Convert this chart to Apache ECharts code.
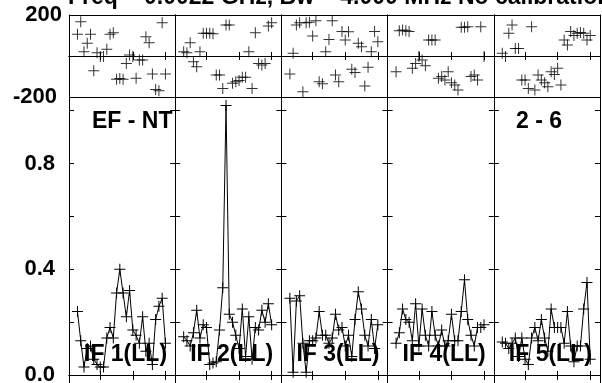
<!DOCTYPE html>
<html><head><meta charset="utf-8">
<script src="https://cdn.jsdelivr.net/npm/echarts@6/dist/echarts.min.js"></script>
<style>html,body{margin:0;padding:0;background:#fff}#c{width:602px;height:383px}</style>
</head><body><div id="c"></div>
<script>
// ---- data ----
const channels = [3,4,5,6,7,8,9,10,11,12,13,14,15,16,17,18,19,20,21,22,23,24,25,26,27,28,29,30];
const ifLabels = ['IF 1(LL)','IF 2(LL)','IF 3(LL)','IF 4(LL)','IF 5(LL)'];
const titleText = 'Freq = 0.0022 GHz, Bw = 4.000 MHz No calibration applied';
const baselineText = 'EF - NT';
const pageText = '2 - 6';
const phaseTickLabels = ['200','-200'];
const ampTickLabels = ['0.0','0.4','0.8'];

const phase1 = [106,167,21,62,106,-72,16,-3,-3,33,106,114,-114,-110,-114,-36,5,-3,-109,-20,-20,94,65,-88,-163,-170,162,-88];
const phase2 = [21,16,65,-28,-52,21,111,111,111,108,-93,-93,-158,151,151,-133,-125,-120,-104,-104,21,-158,114,-36,-44,-36,146,162];
const phase3 = [-88,13,151,162,-174,162,165,98,172,-125,-135,21,81,172,-93,-125,119,78,118,-65,-81,62,45,-146,-55,21,119,70];
const phase4 = [-77,123,127,123,120,-60,-36,-3,-20,-48,78,78,78,-109,-100,-117,-77,-130,-141,-166,140,140,143,-100,-93,-117,143,-3];
const phase5 = [13,-3,111,151,37,37,-117,-117,-158,143,-166,-93,-117,-130,-150,-77,-90,-60,-141,78,54,119,100,111,115,111,78,100];

const amp1 = [0.24,0.13,0.03,0.10,0.11,0.06,0.04,0.03,0.03,0.14,0.18,0.14,0.31,0.40,0.31,0.22,0.32,0.17,0.15,0.12,0.22,0.09,0.12,0.04,0.21,0.26,0.29,0.12];
const amp2 = [0.145,0.13,0.11,0.16,0.245,0.14,0.19,0.18,0.04,0.045,0.05,0.17,0.33,1.02,0.23,0.20,0.15,0.10,0.25,0.07,0.22,0.06,0.18,0.17,0.245,0.20,0.27,0.19];
const amp3 = [0.29,0.01,0.28,0.30,0.12,0.01,0.13,0.13,0.14,0.24,0.15,0.15,0.12,0.14,0.23,0.17,0.18,0.11,0.15,0.07,0.21,0.315,0.25,0.15,0.11,0.21,0.10,0.19];
const amp4 = [0.12,0.16,0.25,0.21,0.20,0.13,0.27,0.11,0.25,0.15,0.11,0.24,0.15,0.11,0.17,0.11,0.13,0.23,0.13,0.13,0.24,0.36,0.21,0.15,0.11,0.18,0.18,0.19];
const amp5 = [0.125,0.12,0.10,0.12,0.14,0.07,0.14,0.06,0.04,0.14,0.18,0.13,0.21,0.14,0.09,0.25,0.18,0.18,0.18,0.12,0.24,0.11,0.05,0.11,0.11,0.25,0.35,0.06];

const phases = [phase1, phase2, phase3, phase4, phase5];
const amps = [amp1, amp2, amp3, amp4, amp5];

// ---- layout ----
const FONT = 'Liberation Sans, Arial, Helvetica, sans-serif';
const PL = 69, PW = 106.2;
const PH_TOP = 15, PH_H = 82;
const AMP_TOP = 97, AMP_MIN = -0.2, AMP_MAX = 1.0518, PX_PER = 264.3;
const AMP_H = (AMP_MAX - AMP_MIN) * PX_PER;
const AMP_BOTTOM_OFFSET = -(AMP_TOP + AMP_H - 384);
const XMIN = 0.4, XMAX = 33;
const PLUS = 'path://M5,0H6V5H11V6H6V11H5V6H0V5H5Z';

const grids = [], xAxes = [], yAxes = [], series = [], titles = [];
titles.push({text: titleText, left: 68, top: -13.5, padding: 0,
  textStyle: {fontFamily: FONT, fontWeight: 'bold', fontSize: 23, lineHeight: 23, color: '#000'}});
const annStyle = {fontFamily: FONT, fontWeight: 'bold', fontSize: 23, lineHeight: 23, color: '#000'};
titles.push({text: baselineText, left: 92, top: 110.5, padding: 0, textStyle: annStyle});
titles.push({text: pageText, left: 516, top: 110.5, padding: 0, textStyle: annStyle});

const line = {show: true, lineStyle: {color: '#000', width: 1}};
function xAx(g, pos, tickLen, offset) {
  return {type: 'value', gridIndex: g, position: pos, min: XMIN, max: XMAX, splitNumber: 3,
    minInterval: 10, maxInterval: 10, offset: offset || 0,
    axisLine: line, axisTick: {show: true, inside: true, length: tickLen, lineStyle: {color: '#000'}},
    axisLabel: {show: false}, splitLine: {show: false}};
}

for (let p = 0; p < 5; p++) {
  const left = PL + p * PW;
  const gPh = 2 * p, gAmp = 2 * p + 1;
  grids.push({left: left, top: PH_TOP, width: PW, height: PH_H, containLabel: false, outerBoundsMode: 'none'});
  grids.push({left: left, top: AMP_TOP, width: PW, height: AMP_H, containLabel: false, outerBoundsMode: 'none'});

  // phase axes
  const xPh = xAxes.length;
  xAxes.push(xAx(gPh, 'bottom', 4));
  xAxes.push(xAx(gPh, 'top', 4));
  const yPh = yAxes.length;
  yAxes.push({type: 'value', gridIndex: gPh, position: 'left', min: -200, max: 200, interval: 200,
    axisLine: line, axisTick: {show: false},
    axisLabel: {show: p === 0, margin: 7, color: '#000', fontFamily: FONT, fontWeight: 'bold', fontSize: 22,
      formatter: v => { const s = String(Math.round(v)); if (!phaseTickLabels.includes(s)) return '';
        return s.startsWith('-') ? '{n|' + s + '}' : s; },
      rich: {n: {fontFamily: FONT, fontWeight: 'bold', fontSize: 22, color: '#000', padding: [0, 5, 0, 0]}}},
    splitLine: {show: true, lineStyle: {color: '#000', width: 1}}});
  yAxes.push({type: 'value', gridIndex: gPh, position: 'right', min: -200, max: 200, interval: 200,
    axisLine: line, axisTick: {show: false}, axisLabel: {show: false}, splitLine: {show: false}});

  // amplitude axes
  const xAmp = xAxes.length;
  xAxes.push(xAx(gAmp, 'bottom', 4, AMP_BOTTOM_OFFSET));
  xAxes.push(xAx(gAmp, 'top', 5));
  const yAmp = yAxes.length;
  const ampTick = {show: true, inside: true, length: 5, lineStyle: {color: '#000'}};
  yAxes.push({type: 'value', gridIndex: gAmp, position: 'left', min: AMP_MIN, max: AMP_MAX, interval: 0.2,
    axisLine: line, axisTick: ampTick,
    axisLabel: {show: p === 0, margin: 14, color: '#000', fontFamily: FONT, fontWeight: 'bold', fontSize: 22,
      showMinLabel: true, showMaxLabel: true,
      formatter: v => { const s = v.toFixed(1); return (ampTickLabels.includes(s) && Math.abs(v * 10 - Math.round(v * 10)) < 1e-6) ? s : ''; }},
    splitLine: {show: false}});
  yAxes.push({type: 'value', gridIndex: gAmp, position: 'right', min: AMP_MIN, max: AMP_MAX, interval: 0.2,
    axisLine: line, axisTick: ampTick, axisLabel: {show: false}, splitLine: {show: false}});

  series.push({type: 'scatter', xAxisIndex: xPh, yAxisIndex: yPh,
    data: channels.map((c, i) => [c, phases[p][i]]),
    symbol: PLUS, symbolSize: 11, itemStyle: {color: '#000'}, silent: true});
  series.push({type: 'line', xAxisIndex: xAmp, yAxisIndex: yAmp,
    data: channels.map((c, i) => [c, amps[p][i]]),
    symbol: PLUS, symbolSize: 11, showAllSymbol: true,
    lineStyle: {color: '#000', width: 1}, itemStyle: {color: '#000'}, silent: true});

  titles.push({text: ifLabels[p], left: left + 15, top: 343, padding: 0, textStyle: annStyle});
}

const chart = echarts.init(document.getElementById('c'), null, {renderer: 'canvas'});
chart.setOption({animation: false, backgroundColor: '#fff', title: titles,
  grid: grids, xAxis: xAxes, yAxis: yAxes, series: series});
</script></body></html>
